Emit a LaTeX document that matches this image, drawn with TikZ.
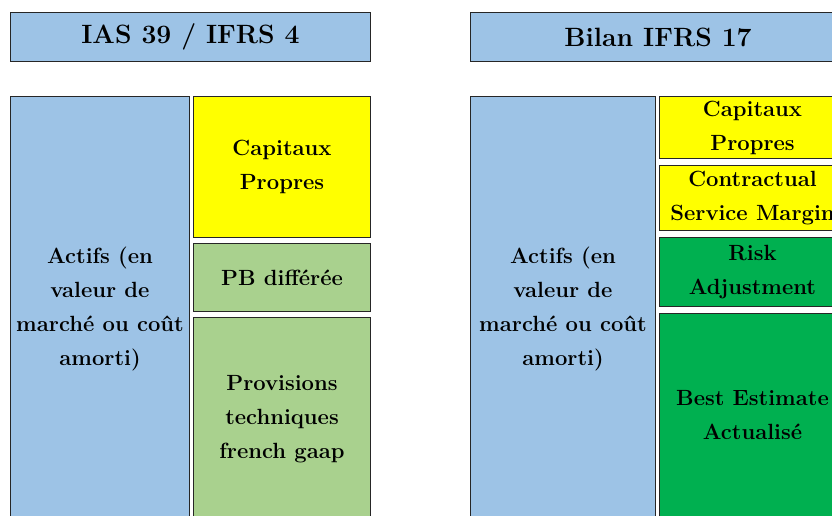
\documentclass[tikz,border=0pt]{standalone}
\definecolor{cblue}{HTML}{9DC3E6}
\definecolor{cyellow}{HTML}{FFFF00}
\definecolor{clgreen}{HTML}{A9D18E}
\definecolor{cgreen}{HTML}{00B050}
\tikzset{
  box/.style={draw=black!85, line width=1pt, align=center, inner sep=0pt, anchor=north west,
    font=\bfseries\fontsize{22}{34}\selectfont},
  titlebox/.style={box, fill=cblue, font=\bfseries\fontsize{26.5}{30}\selectfont}
}
\begin{document}
\begin{tikzpicture}[x=1pt,y=-1pt]
\useasboundingbox (0,0) rectangle (832,515);
\clip (0,0) rectangle (832,515);
% titles
\node[titlebox, minimum width=360pt, minimum height=49pt] (t1) at (10,12) {IAS 39 / IFRS 4};
\node[titlebox, minimum width=375pt, minimum height=49pt] (t2) at (470,12) {Bilan IFRS 17};
% left balance sheet
\node[box, fill=cblue, minimum width=179pt, minimum height=426pt] (a1) at (10,96) {Actifs (en\\valeur de\\march\'e ou co\^ut\\amorti)};
\node[box, fill=cyellow, minimum width=177pt, minimum height=141pt] (cp1) at (193,96) {Capitaux\\Propres};
\node[box, fill=clgreen, minimum width=177pt, minimum height=68pt] (pb) at (193,243) {PB diff\'er\'ee};
\node[box, fill=clgreen, minimum width=177pt, minimum height=203pt] (pt) at (193,317) {Provisions\\techniques\\french gaap};
% right balance sheet
\node[box, fill=cblue, minimum width=185pt, minimum height=426pt] (a2) at (470,96) {Actifs (en\\valeur de\\march\'e ou co\^ut\\amorti)};
\node[box, fill=cyellow, minimum width=186pt, minimum height=62pt] (cp2) at (659,96) {Capitaux\\Propres};
\node[box, fill=cyellow, minimum width=186pt, minimum height=65pt] (csm) at (659,165) {Contractual\\Service Margin};
\node[box, fill=cgreen, minimum width=186pt, minimum height=69pt] (ra) at (659,237) {Risk\\Adjustment};
\node[box, fill=cgreen, minimum width=186pt, minimum height=204pt] (be) at (659,313) {Best Estimate\\Actualis\'e};
\end{tikzpicture}
\end{document}
